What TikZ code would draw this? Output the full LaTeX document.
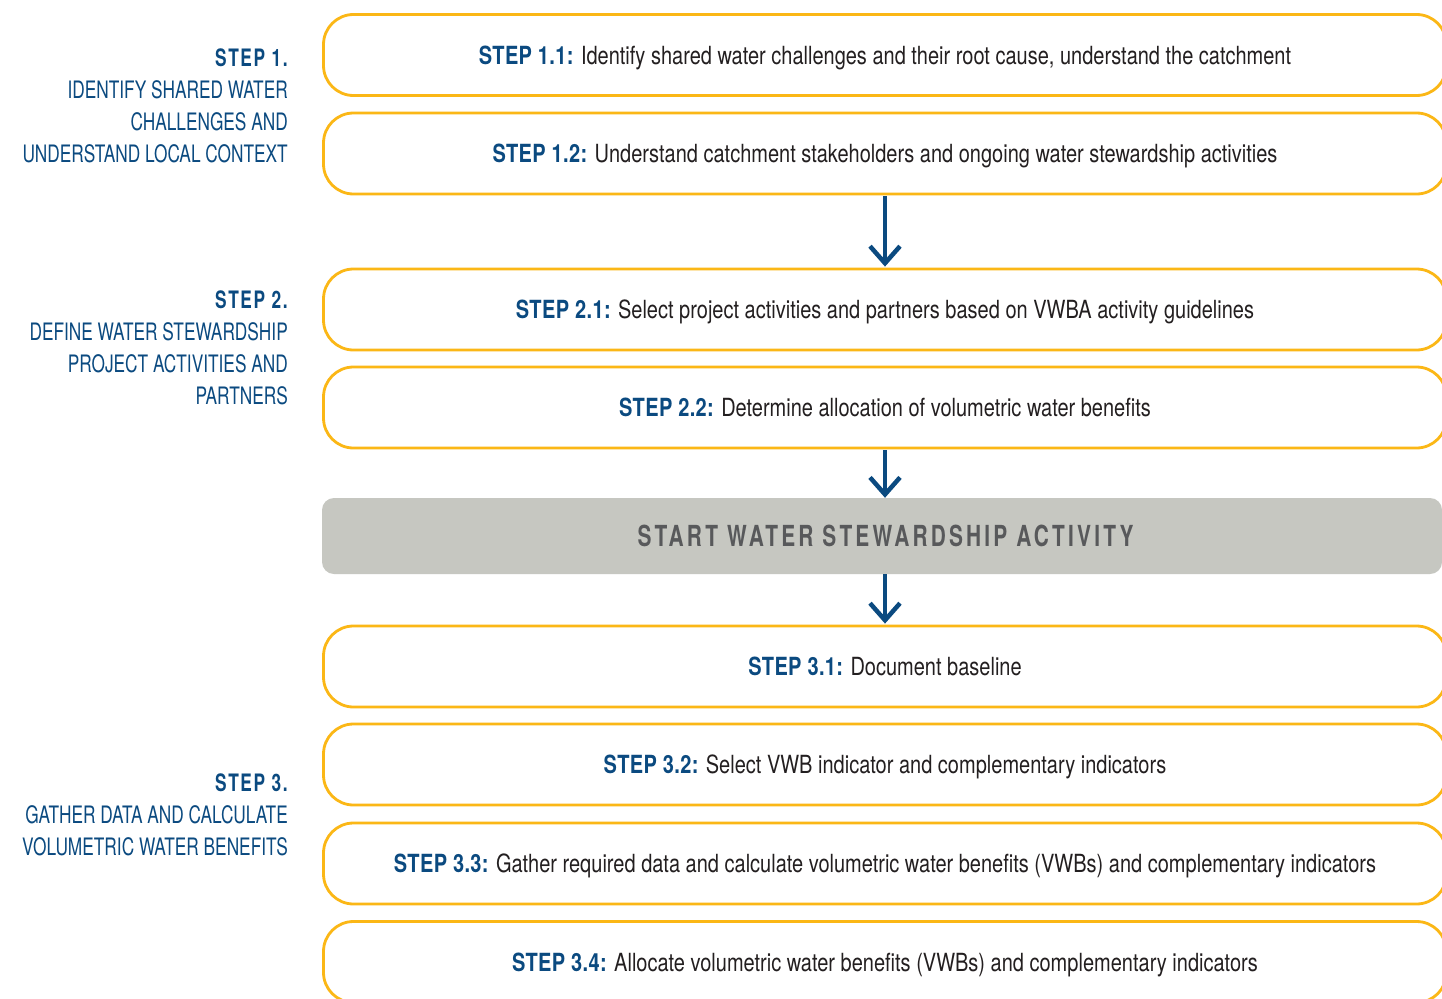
\documentclass[tikz,border=0pt]{standalone}
\usepackage{fontspec}
\setmainfont{TeX Gyre Heros}[FakeStretch=0.72]
\newfontfamily\boxfont{TeX Gyre Heros}[FakeStretch=0.80]
\usetikzlibrary{arrows.meta}
\definecolor{ybord}{HTML}{FBB716}
\definecolor{sblue}{HTML}{0B4A80}
\definecolor{gfill}{HTML}{C6C7C1}
\definecolor{gtext}{HTML}{58595B}
\definecolor{btext}{HTML}{231F20}
\newcommand\stp[1]{{\bfseries\addfontfeatures{LetterSpace=1.5}\color{sblue}#1}}
\newcommand\lstp[1]{{\bfseries\addfontfeatures{LetterSpace=7}#1}}
\begin{document}
\begin{tikzpicture}[x=1pt,y=-1pt,
  stepbox/.style={draw=ybord, line width=2.8pt, rounded corners=30pt, minimum width=1123pt, minimum height=81pt, inner sep=0pt, text height=18pt, text depth=0pt, font=\boxfont\fontsize{25}{28}\selectfont, text=btext},
  graybox/.style={fill=gfill, rounded corners=12pt, minimum width=1120pt, minimum height=76pt, inner sep=0pt, text height=21pt, text depth=0pt, text=gtext, font=\fontsize{29}{32}\selectfont\bfseries\addfontfeatures{LetterSpace=11}},
  lbl/.style={align=right, anchor=east, inner sep=0pt, text=sblue, font=\fontsize{24}{32}\selectfont},
  flow/.style={draw=sblue, line width=4.5pt, -{Straight Barb[length=17pt,width=30pt,sharp]}}]
\useasboundingbox (0,0) rectangle (1442,998);
\clip (0,0) rectangle (1442,998);
\fill[white] (0,0) rectangle (1442,998);

% left labels
\node[lbl] (l1) at (288,106) {\lstp{STEP 1.}\\IDENTIFY SHARED WATER\\CHALLENGES AND\\UNDERSTAND LOCAL CONTEXT};
\node[lbl] (l2) at (288,348) {\lstp{STEP 2.}\\DEFINE WATER STEWARDSHIP\\PROJECT ACTIVITIES AND\\PARTNERS};
\node[lbl] (l3) at (288,815) {\lstp{STEP 3.}\\GATHER DATA AND CALCULATE\\VOLUMETRIC WATER BENEFITS};

% step boxes
\node[stepbox] (b11) at (885,55) {\stp{STEP 1.1:} Identify shared water challenges and their root cause, understand the catchment};
\node[stepbox] (b12) at (885,153.5) {\stp{STEP 1.2:} Understand catchment stakeholders and ongoing water stewardship activities};
\node[stepbox] (b21) at (885,309.5) {\stp{STEP 2.1:} Select project activities and partners based on VWBA activity guidelines};
\node[stepbox] (b22) at (885,407.5) {\stp{STEP 2.2:} Determine allocation of volumetric water benefits};
\node[graybox] (start) at (882,536) {\hspace*{7pt}START WATER STEWARDSHIP ACTIVITY};
\node[stepbox] (b31) at (885,666.5) {\stp{STEP 3.1:} Document baseline};
\node[stepbox] (b32) at (885,764.5) {\stp{STEP 3.2:} Select VWB indicator and complementary indicators};
\node[stepbox] (b33) at (885,863.5) {\stp{STEP 3.3:} Gather required data and calculate volumetric water benefits (VWBs) and complementary indicators};
\node[stepbox] (b34) at (885,962) {\stp{STEP 3.4:} Allocate volumetric water benefits (VWBs) and complementary indicators};

% arrows
\draw[flow] ([yshift=-1pt]b12.south) -- ([yshift=1pt]b21.north);
\draw[flow] ([yshift=-1pt]b22.south) -- ([xshift=3pt]start.north);
\draw[flow] ([xshift=3pt]start.south) -- ([yshift=1pt]b31.north);
\end{tikzpicture}
\end{document}
